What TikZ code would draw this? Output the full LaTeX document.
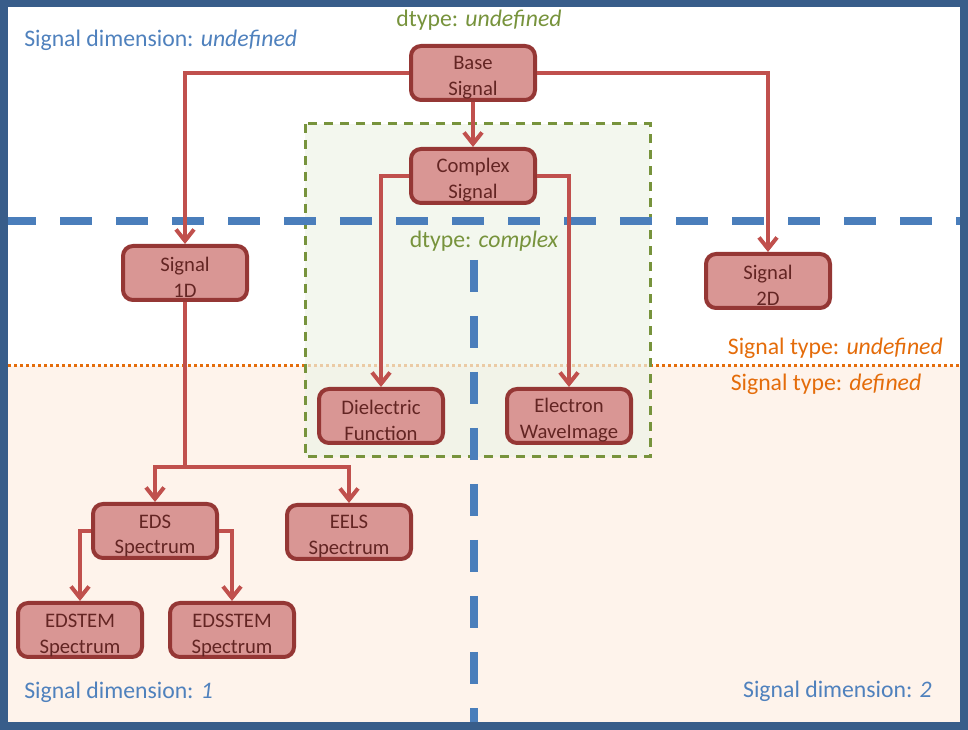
\documentclass[tikz,border=0pt]{standalone}
\usepackage{fontspec}
\setmainfont{Carlito}
\usetikzlibrary{arrows.meta,positioning}

\definecolor{frameblue}{HTML}{385D8A}
\definecolor{dashblue}{HTML}{4A7EBB}
\definecolor{textblue}{HTML}{4F81BD}
\definecolor{dgreen}{HTML}{77933C}
\definecolor{greenfill}{HTML}{EEF4E7}
\definecolor{dorange}{HTML}{E46C0A}
\definecolor{peach}{HTML}{FEF3EB}
\definecolor{blockfill}{HTML}{D99694}
\definecolor{blockline}{HTML}{953735}
\definecolor{blocktext}{HTML}{632523}
\definecolor{linkred}{HTML}{C0504D}

\begin{document}
\begin{tikzpicture}[x=0.75pt,y=-0.75pt,
        block/.style = {draw=blockline, fill=blockfill, text=blocktext, rounded corners=7.5pt,
            line width=3pt, minimum width=93pt, minimum height=40.5pt, inner sep=0pt,
            align=center, font=\fontsize{15.5}{19.5}\selectfont,
            execute at begin node={\rule{0pt}{37pt}}},
        link/.style = {draw=linkred, line width=3pt, -{Straight Barb[length=8.5pt,width=13.5pt]}},
        dimline/.style = {draw=dashblue, line width=6pt, dash pattern=on 24pt off 18pt},
        typeline/.style = {draw=dorange, line width=2.25pt, dash pattern=on 2.25pt off 2.25pt},
        cplxbox/.style = {draw=dgreen, fill=greenfill, fill opacity=0.7, line width=2.25pt,
            dash pattern=on 6.5pt off 5.5pt},
        dimtext/.style = {text=textblue, inner sep=0pt, font=\fontsize{17.8}{20}\selectfont},
        typetext/.style = {text=dorange, inner sep=0pt, font=\fontsize{17.8}{20}\selectfont},
        dtypetext/.style = {text=dgreen, inner sep=0pt, font=\fontsize{17.8}{20}\selectfont},]
        \useasboundingbox (0,0) rectangle (968,730);

        % regions
        \fill[peach] (4,366) rectangle (964,726);
        \draw[typeline] (8,366) -- (960,366);
        \draw[cplxbox] (305,124) rectangle (650,457);
        \draw[dimline] (4,221) -- (968,221);
        \draw[dimline] (474,260) -- (474,730);

        % classes
        \node[block] (base) at (473,73) {Base\\Signal};
        \node[block] (cplx) at (473,176) {Complex\\Signal};
        \node[block] (sig1d) at (185,273) {Signal\\1D};
        \node[block] (sig2d) at (768,281) {Signal\\2D};
        \node[block] (diel) at (381,416) {Dielectric\\Function};
        \node[block] (ewave) at (569,416) {Electron\\WaveImage};
        \node[block] (eds) at (155,531) {EDS\\Spectrum};
        \node[block] (eels) at (349,532) {EELS\\Spectrum};
        \node[block] (edstem) at (80,630) {EDSTEM\\Spectrum};
        \node[block] (edsstem) at (232,630) {EDSSTEM\\Spectrum};
        \coordinate (split) at (185,467);

        \draw[link] (base.west) -| (sig1d.north);
        \draw[link] (base.east) -| (sig2d.north);
        \draw[link] (base) -- (cplx);
        \draw[link] (cplx.west) -| (diel.north);
        \draw[link] (cplx.east) -| (ewave.north);
        \draw[link] (sig1d.south) -- (split) -| (eds.north);
        \draw[link] (split) -| (eels.north);
        \draw[link] (eds.west) -| (edstem.north);
        \draw[link] (eds.east) -| (edsstem.north);

        % labels
        \node[dimtext, anchor=west] (dimundef) at (24,40) {Signal dimension: \textit{undefined}};
        \node[dimtext, anchor=west] (dimone) at (24,692) {Signal dimension: \textit{1}};
        \node[dimtext, anchor=east] (dimtwo) at (932,691) {Signal dimension: \textit{2}};
        \node[dtypetext] (dtundef) at (479,20) {dtype: \textit{undefined}};
        \node[dtypetext] (dtcplx) at (484,241) {dtype: \textit{complex}};
        \node[typetext, anchor=east] (typeundef) at (943,348) {Signal type: \textit{undefined}};
        \node[typetext] (typedef) at (826,384) {Signal type: \textit{defined}};

        % frame
        \draw[frameblue, line width=6pt] (4,3) rectangle (964,726);
\end{tikzpicture}
\end{document}
